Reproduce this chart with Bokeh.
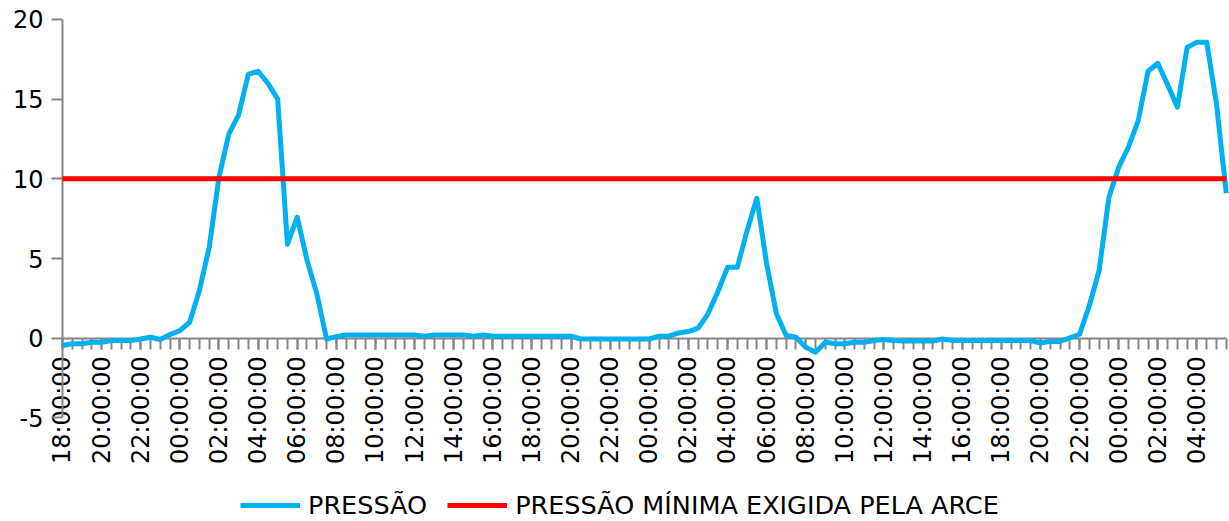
import math
from bokeh.plotting import figure
from bokeh.models import Range1d, FixedTicker, Legend, LegendItem
from bokeh.embed import file_html
from bokeh.resources import INLINE

# ---- data (half-hourly readings, 18:00 day 1 -> 05:30 day 4) ----
pressao = [
    -0.46, -0.35, -0.35, -0.25, -0.25, -0.15, -0.15, -0.15, -0.05, 0.06,
    -0.08, 0.23, 0.48, 1.0, 3.0, 5.7, 10.1, 12.8, 14.0, 16.55,
    16.75, 16.0, 15.0, 5.9, 7.6, 4.9, 2.8, -0.05, 0.1, 0.2,
    0.2, 0.2, 0.2, 0.2, 0.2, 0.2, 0.2, 0.13, 0.2, 0.2,
    0.2, 0.2, 0.13, 0.2, 0.13, 0.13, 0.13, 0.13, 0.13, 0.13,
    0.13, 0.13, 0.13, -0.05, -0.05, -0.05, -0.05, -0.05, -0.05, -0.05,
    -0.05, 0.13, 0.13, 0.33, 0.42, 0.63, 1.53, 2.9, 4.45, 4.45,
    6.75, 8.78, 4.67, 1.53, 0.17, 0.06, -0.56, -0.88, -0.25, -0.35,
    -0.35, -0.25, -0.25, -0.15, -0.08, -0.15, -0.18, -0.18, -0.18, -0.18,
    -0.05, -0.15, -0.15, -0.15, -0.15, -0.15, -0.15, -0.15, -0.15, -0.15,
    -0.3, -0.2, -0.2, 0.02, 0.25, 2.05, 4.25, 8.85, 10.73, 12.0,
    13.66, 16.75, 17.25, 15.9, 14.5, 18.25, 18.57, 18.57, 14.7, 9.1,
]
pressao_minima = [10] * len(pressao)

tick_labels = [
    "18:00:00", "20:00:00", "22:00:00", "00:00:00", "02:00:00", "04:00:00",
    "06:00:00", "08:00:00", "10:00:00", "12:00:00", "14:00:00", "16:00:00",
    "18:00:00", "20:00:00", "22:00:00", "00:00:00", "02:00:00", "04:00:00",
    "06:00:00", "08:00:00", "10:00:00", "12:00:00", "14:00:00", "16:00:00",
    "18:00:00", "20:00:00", "22:00:00", "00:00:00", "02:00:00", "04:00:00",
]
label_every = 4
y_ticks = [-5, 0, 5, 10, 15, 20]
series_names = ["PRESSÃO", "PRESSÃO MÍNIMA EXIGIDA PELA ARCE"]

n = len(pressao)
x = list(range(n))

FONT = "DejaVu Sans"
GRAY = "#868686"

p = figure(width=1229, height=521, output_backend="svg", toolbar_location=None,
           x_range=Range1d(-6.34, 119.33), y_range=Range1d(-11.5, 21.19),
           min_border_left=0, min_border_right=0, min_border_top=0,
           min_border_bottom=0)
p.outline_line_color = None
p.xgrid.visible = False
p.ygrid.visible = False
p.background_fill_color = "white"

r1 = p.line(x, pressao, line_color="#00B0F0", line_width=5, line_join="round")
r2 = p.line(x, pressao_minima, line_color="#FF0000", line_width=5)

# y axis at x = 0
ya = p.yaxis[0]
ya.fixed_location = 0
ya.level = "underlay"
ya.ticker = FixedTicker(ticks=y_ticks, minor_ticks=[])
ya.bounds = (y_ticks[0], y_ticks[-1])
ya.major_label_overrides = {t: str(t) for t in y_ticks}
ya.axis_line_color = GRAY
ya.axis_line_width = 2
ya.major_tick_line_color = GRAY
ya.major_tick_line_width = 2
ya.major_tick_out = 11
ya.major_tick_in = 0
ya.minor_tick_line_color = None
ya.major_label_standoff = 8
ya.major_label_text_font = FONT
ya.major_label_text_font_size = "24px"
ya.major_label_text_color = "black"

# x axis at y = 0
xa = p.xaxis[0]
xa.fixed_location = 0
xa.level = "underlay"
xa.bounds = (0, n - 1)
major = [i * label_every for i in range(len(tick_labels))]
xa.ticker = FixedTicker(ticks=major, minor_ticks=x)
xa.major_label_overrides = {m: lab for m, lab in zip(major, tick_labels)}
xa.major_label_orientation = math.pi / 2
xa.axis_line_color = GRAY
xa.axis_line_width = 2
xa.major_tick_line_color = GRAY
xa.major_tick_line_width = 2
xa.minor_tick_line_color = GRAY
xa.minor_tick_line_width = 2
xa.major_tick_out = 11
xa.major_tick_in = 0
xa.minor_tick_out = 11
xa.minor_tick_in = 0
xa.major_label_standoff = 7
xa.major_label_text_font = FONT
xa.major_label_text_font_size = "24px"
xa.major_label_text_color = "black"

legend = Legend(
    items=[LegendItem(label=series_names[0], renderers=[r1]),
           LegendItem(label=series_names[1], renderers=[r2])],
    orientation="horizontal", location=(240, 1),
    glyph_width=60, glyph_height=20, label_standoff=8, spacing=20,
    padding=0, margin=0,
    label_text_font=FONT, label_text_font_size="25.5px", label_text_color="black",
    background_fill_alpha=0, border_line_alpha=0,
)
p.add_layout(legend)

open("out.html", "w").write(file_html(p, INLINE))
